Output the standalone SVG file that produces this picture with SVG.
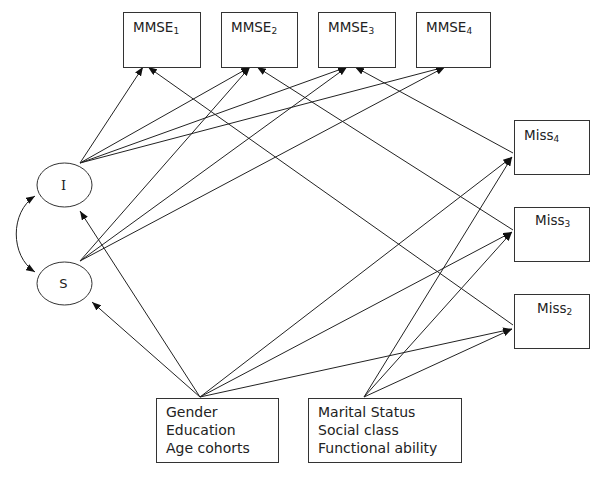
<svg xmlns="http://www.w3.org/2000/svg" width="600" height="477" viewBox="0 0 600 477">
<defs>
<marker id="ah" markerUnits="userSpaceOnUse" markerWidth="9" markerHeight="7" refX="9" refY="3.5" orient="auto-start-reverse">
<path d="M0,0 L9,3.5 L0,7 z" fill="#111"/>
</marker>
<style>
.box{fill:#fff;stroke:#333;stroke-width:1}
.ell{fill:#fff;stroke:#333;stroke-width:1}
.t{font-family:"DejaVu Sans","Verdana",sans-serif;fill:#222;font-size:13.5px}
.b{font-family:"DejaVu Sans","Verdana",sans-serif;fill:#222;font-size:14px}
.sub{font-size:9px}
.c line,.c path{stroke:#222;stroke-width:1;fill:none;marker-end:url(#ah)}
</style>
</defs>
<rect width="600" height="477" fill="#fff"/>
<g class="c" id="connectors">
<line x1="80" y1="163" x2="143" y2="67"/>
<line x1="80" y1="163" x2="250" y2="67"/>
<line x1="80" y1="163" x2="347" y2="67"/>
<line x1="80" y1="163" x2="445" y2="67"/>
<line x1="80" y1="261" x2="250" y2="67"/>
<line x1="80" y1="261" x2="347" y2="67"/>
<line x1="80" y1="261" x2="445" y2="67"/>
<line x1="513" y1="325" x2="148" y2="67"/>
<line x1="513" y1="230" x2="257" y2="67"/>
<line x1="513" y1="153" x2="355" y2="67"/>
<line x1="200" y1="397" x2="80" y2="211"/>
<line x1="200" y1="397" x2="92" y2="302"/>
<line x1="200" y1="397" x2="512" y2="157"/>
<line x1="200" y1="397" x2="512" y2="232"/>
<line x1="200" y1="397" x2="512" y2="329"/>
<line x1="364" y1="397" x2="512" y2="157"/>
<line x1="364" y1="397" x2="512" y2="232"/>
<line x1="364" y1="397" x2="512" y2="329"/>
<path d="M35,196 C10,212 10,256 35,272" style="marker-start:url(#ah)"/>
</g>
<g id="mmse1"><rect class="box" x="123.5" y="12.5" width="77" height="55"/><text class="t" x="133" y="32">MMSE<tspan class="sub" dy="2">1</tspan></text></g>
<g id="mmse2"><rect class="box" x="221.5" y="12.5" width="76" height="55"/><text class="t" x="231" y="32">MMSE<tspan class="sub" dy="2">2</tspan></text></g>
<g id="mmse3"><rect class="box" x="318.5" y="12.5" width="77" height="55"/><text class="t" x="328" y="32">MMSE<tspan class="sub" dy="2">3</tspan></text></g>
<g id="mmse4"><rect class="box" x="416.5" y="12.5" width="74" height="55"/><text class="t" x="426" y="32">MMSE<tspan class="sub" dy="2">4</tspan></text></g>
<g id="I"><ellipse class="ell" cx="64.5" cy="185" rx="27.5" ry="22"/><text class="t" x="63.5" y="190" text-anchor="middle" style="font-family:'DejaVu Serif',serif;font-size:13px">I</text></g>
<g id="S"><ellipse class="ell" cx="64.5" cy="283.5" rx="27.5" ry="21.5"/><text class="t" x="63.5" y="288" text-anchor="middle" style="font-size:13px">S</text></g>
<g id="miss4"><rect class="box" x="514.5" y="120.5" width="75" height="54"/><text class="t" x="524" y="140">Miss<tspan class="sub" dy="2">4</tspan></text></g>
<g id="miss3"><rect class="box" x="514.5" y="207.5" width="75" height="54"/><text class="t" x="535" y="225">Miss<tspan class="sub" dy="2">3</tspan></text></g>
<g id="miss2"><rect class="box" x="514.5" y="294.5" width="75" height="54"/><text class="t" x="537" y="313">Miss<tspan class="sub" dy="2">2</tspan></text></g>
<g id="demo"><rect class="box" x="156.5" y="398.5" width="122" height="64"/>
<text class="b" x="166" y="417">Gender</text><text class="b" x="166" y="435">Education</text><text class="b" x="166" y="453">Age cohorts</text></g>
<g id="social"><rect class="box" x="308.5" y="398.5" width="153" height="64"/>
<text class="b" x="318" y="417">Marital Status</text><text class="b" x="318" y="435">Social class</text><text class="b" x="318" y="453">Functional ability</text></g>
</svg>
